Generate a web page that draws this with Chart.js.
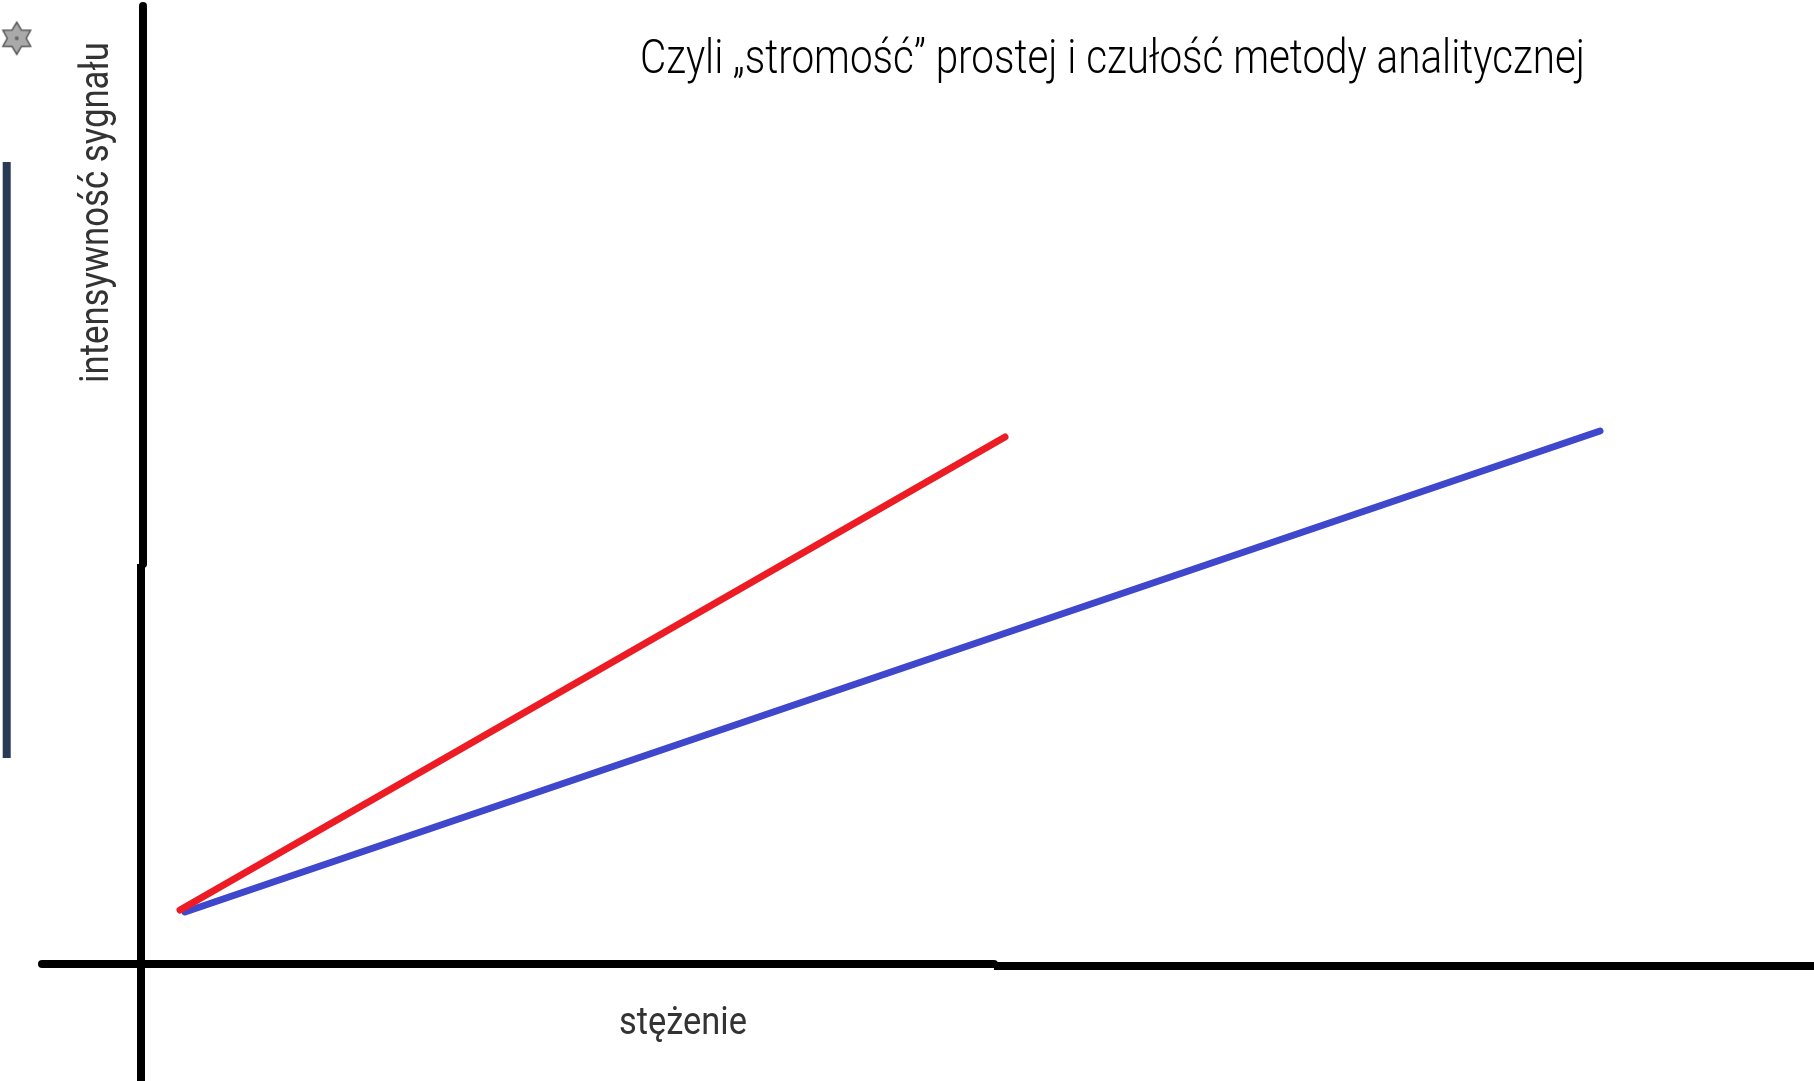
<!DOCTYPE html>
<html lang="pl">
<head>
<meta charset="utf-8">
<title>Czułość metody analitycznej</title>
<script src="https://cdn.jsdelivr.net/npm/chart.js@4/dist/chart.umd.min.js"></script>
<style>
  html, body { margin: 0; padding: 0; background: #fff; }
  #wrap { width: 1814px; height: 1081px; }
</style>
</head>
<body>
<div id="wrap"><canvas id="myChart" width="1814" height="1081"></canvas></div>
<script>
// stężenie (x) i intensywność sygnału (y) dla obu prostych
var redConc = [0.39, 8.64];
var redSignal = [0.54, 5.27];
var blueConc = [0.44, 14.59];
var blueSignal = [0.52, 5.33];

// narysowane ręcznie osie (dwa kawałki każda)
var xAxisLeftX = [-0.99, 8.53];
var xAxisLeftY = [0, 0];
var xAxisRightX = [8.53, 16.8];
var xAxisRightY = [-0.02, -0.02];
var yAxisUpperX = [0.02, 0.02];
var yAxisUpperY = [4.0, 9.58];
var yAxisLowerX = [0, 0];
var yAxisLowerY = [-1.2, 4.0];

// pasek z lewej i gwiazdka w rogu
var sideBarX = [-1.343, -1.343];
var sideBarY = [2.06, 8.02];
var starX = [-1.243];
var starY = [9.257];

var titleText = 'Czyli \u201Estromość\u201D prostej i czułość metody analitycznej';
var xTitle = 'stężenie';
var yTitle = 'intensywność sygnału';

function toPoints(xs, ys) {
  var pts = [];
  for (var i = 0; i < xs.length; i++) {
    pts.push({x: xs[i], y: ys[i]});
  }
  return pts;
}

function makeStar() {
  var c = document.createElement('canvas');
  c.width = 36; c.height = 36;
  var g = c.getContext('2d');
  g.translate(18, 18);
  g.beginPath();
  for (var i = 0; i < 12; i++) {
    var r = (i % 2 === 0) ? 16 : 9.5;
    var a = -Math.PI / 2 + i * Math.PI / 6;
    g.lineTo(r * Math.cos(a), r * Math.sin(a));
  }
  g.closePath();
  g.fillStyle = '#a9a9a9';
  g.fill();
  g.lineWidth = 1.5;
  g.strokeStyle = '#555';
  g.stroke();
  g.beginPath();
  g.arc(0, 0, 2, 0, Math.PI * 2);
  g.fillStyle = '#666';
  g.fill();
  return c;
}

// tekst ściśnięty do zadanej szerokości (jak w oryginale)
function drawFit(ctx, text, x, y, width, font, color) {
  ctx.save();
  ctx.font = font;
  ctx.fillStyle = color;
  ctx.textBaseline = 'alphabetic';
  ctx.textAlign = 'left';
  var w = ctx.measureText(text).width;
  ctx.translate(x, y);
  ctx.scale(width / w, 1);
  ctx.fillText(text, 0, 0);
  ctx.restore();
}

var labelsPlugin = {
  id: 'labels',
  afterDraw: function(chart) {
    var ctx = chart.ctx;
    drawFit(ctx, titleText, 640, 73, 945, '300 48px Roboto', '#000');
    drawFit(ctx, xTitle, 619, 1034, 128, '400 38px Roboto', '#333');
    ctx.save();
    ctx.translate(107.5, 383);
    ctx.rotate(-Math.PI / 2);
    drawFit(ctx, yTitle, 0, 0, 341, '400 40px Roboto', '#333');
    ctx.restore();
  }
};

function lineSet(data, color, width, cap, order) {
  return {
    data: data,
    borderColor: color,
    borderWidth: width,
    borderCapStyle: cap,
    pointRadius: 0,
    fill: false,
    tension: 0,
    clip: false,
    order: order
  };
}

var ctx = document.getElementById('myChart').getContext('2d');
var myChart = new Chart(ctx, {
  type: 'line',
  data: {
    datasets: [
      lineSet(toPoints(redConc, redSignal), '#ed1c24', 7, 'round', 0),
      lineSet(toPoints(blueConc, blueSignal), '#3f48cc', 7, 'round', 1),
      lineSet(toPoints(xAxisLeftX, xAxisLeftY), '#000', 8, 'round', 2),
      lineSet(toPoints(xAxisRightX, xAxisRightY), '#000', 8, 'butt', 2),
      lineSet(toPoints(yAxisUpperX, yAxisUpperY), '#000', 8, 'round', 2),
      lineSet(toPoints(yAxisLowerX, yAxisLowerY), '#000', 8, 'butt', 2),
      lineSet(toPoints(sideBarX, sideBarY), '#283a56', 8, 'butt', 3),
      {
        data: toPoints(starX, starY),
        showLine: false,
        pointStyle: makeStar(),
        pointRadius: 16,
        clip: false,
        order: 3
      }
    ]
  },
  options: {
    responsive: false,
    animation: false,
    layout: { padding: 0, autoPadding: false },
    scales: {
      x: { type: 'linear', min: -1.41, max: 16.73, display: false },
      y: { type: 'linear', min: -1.17, max: 9.64, display: false }
    },
    plugins: {
      legend: { display: false },
      tooltip: { enabled: false },
      title: { display: false }
    }
  },
  plugins: [labelsPlugin]
});
</script>
</body>
</html>
